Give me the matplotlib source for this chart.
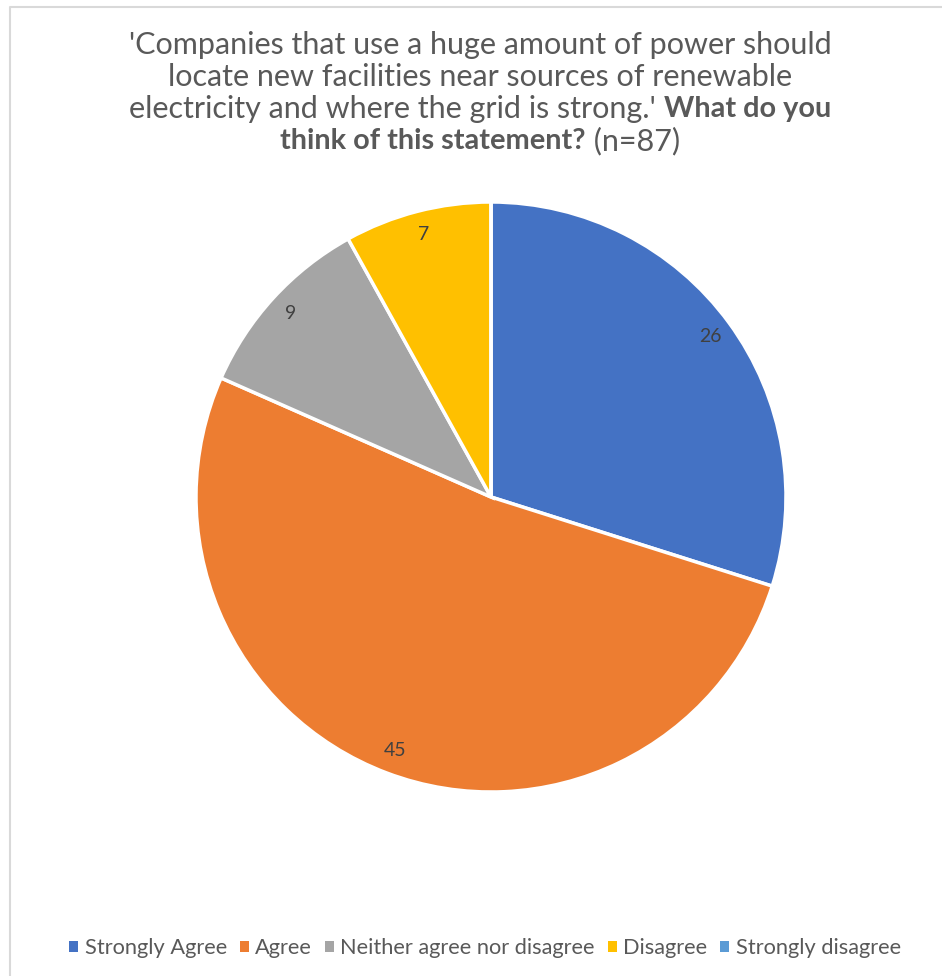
import numpy as np
import matplotlib.pyplot as plt
from matplotlib.lines import Line2D
from matplotlib.patches import Patch

# survey answers
categories = ["Strongly Agree", "Agree", "Neither agree nor disagree",
              "Disagree", "Strongly disagree"]
counts = [26, 45, 9, 7, 0]
colors = ["#4472C4", "#ED7D31", "#A5A5A5", "#FFC000", "#5B9BD5"]
n_total = 87

plt.rcParams['font.family'] = ['Lato', 'DejaVu Sans']
txt_col = "#595959"

W, H = 942, 976
fig = plt.figure(figsize=(W / 100, H / 100), dpi=100)

# thin frame line on the top and left
fig.add_artist(Line2D([10 / W, 10 / W, 1.0], [0.0, 1 - 7 / H, 1 - 7 / H],
                      transform=fig.transFigure, color="#D9D9D9", lw=1.5))

# pie, centre (491, 497) px, radius 295 px
cx, cy, r = 491, 497, 295
ax = fig.add_axes([(cx - r) / W, (H - cy - r) / H, 2 * r / W, 2 * r / H])


def label_fmt(p):
    v = int(round(p * n_total / 100))
    return str(v) if v > 0 else ""


wedges, _, autotexts = ax.pie(counts, colors=colors, startangle=90,
                              counterclock=False, radius=1,
                              autopct=label_fmt, pctdistance=0.92,
                              wedgeprops=dict(edgecolor="white", linewidth=2.5))
for t in autotexts:
    t.set_color("#404040")
    t.set_fontsize(14)
ax.set_xlim(-1, 1)
ax.set_ylim(-1, 1)

# title, mixed regular / bold
fs = 22
renderer = fig.canvas.get_renderer()


def line(parts, ypx):
    texts = []
    for s, w in parts:
        size = fs if w == "normal" else fs - 1.2
        texts.append(fig.text(0, 1 - ypx / H, s, fontsize=size, fontweight=w,
                              color=txt_col, va="center", ha="left"))
    widths = [t.get_window_extent(renderer).width for t in texts]
    x = 480 - sum(widths) / 2
    for t, w in zip(texts, widths):
        t.set_x(x / W)
        x += w


line([("'Companies that use a huge amount of power should", "normal")], 45)
line([("locate new facilities near sources of renewable", "normal")], 77)
line([("electricity and where the grid is strong.' ", "normal"),
      ("What do you", "bold")], 109)
line([("think of this statement?", "bold"), (" (n=87)", "normal")], 141)

handles = [Patch(facecolor=c, edgecolor="none") for c in colors]
fig.legend(handles, categories, loc="center", bbox_to_anchor=(485 / W, 1 - 948 / H),
           ncol=5, frameon=False, fontsize=15.7, labelcolor=txt_col,
           handlelength=0.4, handleheight=0.4, handletextpad=0.3,
           columnspacing=0.6)

fig.savefig("out.png", dpi=100)
